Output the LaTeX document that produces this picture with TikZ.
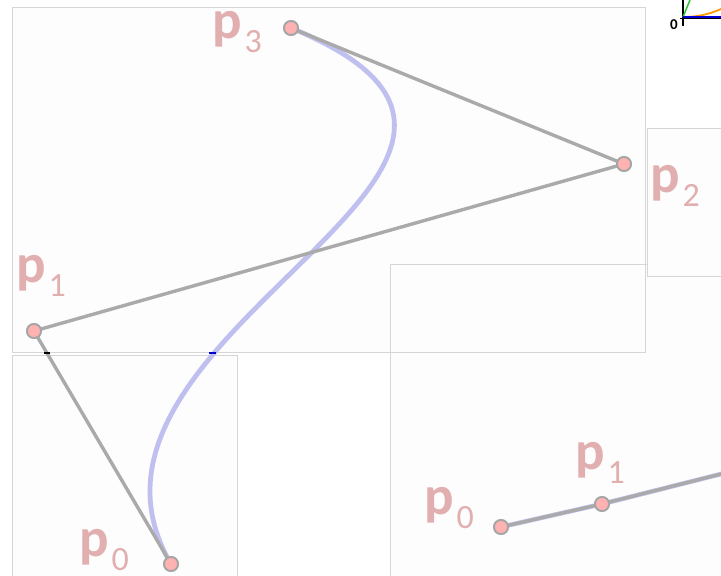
\documentclass[tikz,border=0pt]{standalone}
\usepackage{fontspec}
\setmainfont{Carlito}
\usepackage{tikz}
\usetikzlibrary{positioning}
\definecolor{ptpink}{RGB}{255,178,178}
\definecolor{ptedge}{RGB}{165,165,165}
\definecolor{polygrey}{RGB}{170,170,170}
\definecolor{curveblue}{RGB}{192,192,240}
\definecolor{labelpink}{RGB}{225,175,175}
\definecolor{panelgrey}{RGB}{214,214,214}
\newcommand{\plabel}[1]{\textbf{p}\kern3pt\raisebox{-14pt}{\fontsize{34}{34}\selectfont #1}}

\begin{document}
\begin{tikzpicture}[x=1pt, y=-1pt,
    panel/.style={draw=panelgrey, fill=black!0.7, line width=0.8pt},
    ctrlpt/.style={circle, fill=ptpink, draw=ptedge, line width=1.8pt,
        minimum size=14pt, inner sep=0pt},
    ctrlline/.style={draw=polygrey, line width=3.4pt},
    bezcurve/.style={draw=curveblue, line width=4.8pt},
    ptlabel/.style={anchor=base west, inner sep=0pt, text=labelpink,
        font=\fontsize{55}{55}\selectfont}
]
\useasboundingbox (0,0) rectangle (721,576);
\clip (0,0) rectangle (721,576);

% panels
\draw[panel] (12,7) rectangle (645,352);
\draw[panel] (12,355) rectangle (237,580);
\draw[panel] (390,264) rectangle (725,580);
\draw[panel] (647,128) rectangle (725,276);
\draw[draw=panelgrey, line width=0.8pt] (390,352) -- (645,352) -- (645,264);

% small plot in the corner
\draw[black, line width=1.2pt] (683,0) -- (683,26);
\draw[black, line width=1pt] (680,18) -- (721,18);
\draw[green!70!black!80, line width=1.5pt] (683,17) -- (690,0);
\draw[orange!80!yellow, line width=1.8pt] (683,17) .. controls (700,17) and (712,13) .. (721,9);
\draw[blue!85!black, line width=2pt] (683,17) -- (721,17);
\node[anchor=base east, inner sep=0pt, font=\bfseries\fontsize{15}{15}\selectfont] (zero) at (678,29) {0};

% control points
\node[ctrlpt] (p0) at (171,564) {};
\node[ctrlpt] (p1) at (34,331) {};
\node[ctrlpt] (p2) at (624,164) {};
\node[ctrlpt] (p3) at (291,28) {};

% curve and control polygon
\draw[bezcurve] (p0.center) .. controls (p1.center) and (p2.center) .. (p3.center);
\draw[ctrlline] (p0.center) -- (p1.center) -- (p2.center) -- (p3.center);
\draw[blue!80!black, line width=2pt] (209,353) -- (216,353);
\draw[black, line width=2pt] (44,353) -- (50,353);
\node[ctrlpt] at (p0) {};
\node[ctrlpt] at (p1) {};
\node[ctrlpt] at (p2) {};
\node[ctrlpt] at (p3) {};

% second panel: straight segment
\coordinate (qend) at (725,473);
\node[ctrlpt] (q0) at (501,527) {};
\node[ctrlpt] (q1) at (602,504) {};
\draw[curveblue, line width=4.6pt] (q0.center) -- (q1.center) -- (qend);
\draw[ctrlline] (q0.center) -- (q1.center) -- (qend);
\node[ctrlpt] at (q0) {};
\node[ctrlpt] at (q1) {};

% labels
\node[ptlabel] (lp0) at (79,556) {\plabel{0}};
\node[ptlabel] (lp1) at (16,282) {\plabel{1}};
\node[ptlabel] (lp2) at (650,192) {\plabel{2}};
\node[ptlabel] (lp3) at (212,38) {\plabel{3}};
\node[ptlabel] (lq0) at (424,514) {\plabel{0}};
\node[ptlabel] (lq1) at (575,469) {\plabel{1}};
\end{tikzpicture}
\end{document}
